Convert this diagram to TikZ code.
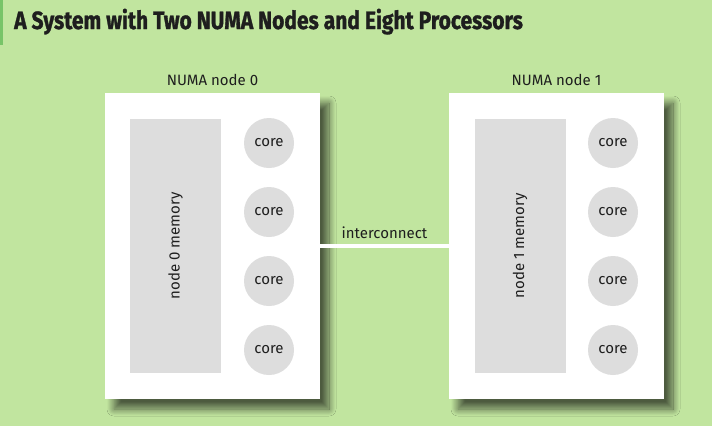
\documentclass[tikz,border=0pt]{standalone}
\usepackage{fontspec}
\setmainfont{Fira Sans}
\newfontfamily\titlefont[FakeStretch=0.84,FakeBold=1.2]{Fira Sans}
\usepackage{tikz}
\usetikzlibrary{positioning,shadows.blur}
\definecolor{bggreen}{RGB}{193,229,159}
\definecolor{bargreen}{RGB}{120,196,104}
\definecolor{memgray}{RGB}{221,221,221}
\definecolor{inkgray}{RGB}{30,30,30}
\tikzset{
  numabox/.style={fill=white, inner sep=0pt, minimum width=215pt, minimum height=306pt,
    blur shadow={shadow xshift=9pt, shadow yshift=-10pt, shadow blur radius=7pt,
      shadow blur steps=16, shadow opacity=60}},
  membox/.style={fill=memgray, inner sep=0pt, minimum width=91pt, minimum height=254pt},
  corenode/.style={circle, fill=memgray, inner sep=0pt, minimum size=50pt, text=inkgray,
    font=\fontsize{15}{17}\selectfont},
  numalabel/.style={text=inkgray, font=\fontsize{15}{18}\selectfont},
}

\begin{document}
\begin{tikzpicture}[x=1pt,y=-1pt]
\fill[bggreen] (0,0) rectangle (712,426);
\fill[bargreen] (0,0) rectangle (3,45);
\node[anchor=base west, inner sep=0pt, text=inkgray, font=\titlefont\bfseries\fontsize{25}{28}\selectfont] (title) at (14,29)
  {A System with Two NUMA Nodes and Eight Processors};
% the two nodes
\node[numabox] (box0) at (212.5,246) {};
\node[numabox] (box1) at (556.5,246) {};
\node[numalabel, above=4pt of box0] (lab0) {NUMA node 0};
\node[numalabel, above=4pt of box1] (lab1) {NUMA node 1};
\node[membox] (mem0) at (175.5,246) {};
\node[membox] (mem1) at (520,246) {};
\node[numalabel, rotate=90] (memlab0) at (mem0) {node 0 memory};
\node[numalabel, rotate=90] (memlab1) at (mem1) {node 1 memory};
\foreach \i/\y in {1/143,2/212,3/281,4/350}{
  \node[corenode] (core0\i) at (269,\y) {core};
  \node[corenode] (core1\i) at (613,\y) {core};
}
% interconnect
\draw[white, line width=3.5pt] (box0.east) -- node[numalabel, above=2pt] (ilab) {interconnect} (box1.west);
\end{tikzpicture}
\end{document}
